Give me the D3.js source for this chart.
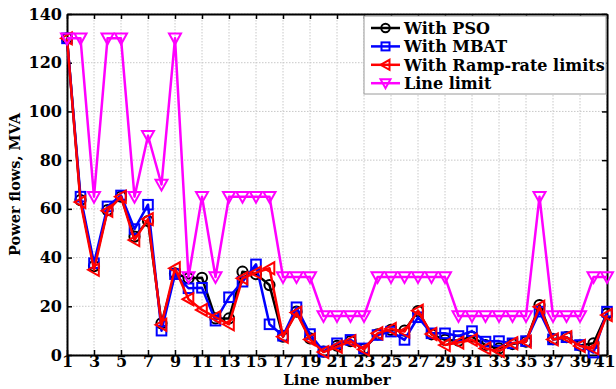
<!DOCTYPE html>
<html>
<head>
<meta charset="utf-8">
<script src="https://cdn.jsdelivr.net/npm/d3@7"></script>
<style>
  html, body { margin: 0; padding: 0; background: #fff; }
  svg { display: block; font-family: 'DejaVu Serif', serif; font-weight: bold; }
</style>
</head>
<body>
<svg id="chart" width="616" height="389"></svg>
<script>
// line numbers 1..41
const lines = d3.range(1, 42);

const withPSO = [130, 63.6, 36.5, 59.5, 65, 48.6, 55, 13, 33.5, 31.5,
  31.7, 15, 15, 34.2, 33.2, 28.7, 7.5, 17.8, 6.8, 1.4,
  3.8, 5.7, 2.5, 8.5, 10.3, 10, 18, 8.5, 6.2, 5.9,
  7.5, 4.1, 2.7, 4.5, 5.5, 20.5, 6.5, 7.3, 3.9, 4.8, 17];

const withMBAT = [130, 65, 37.7, 61, 65.5, 51.7, 61.7, 10, 33.2, 27.4,
  27.6, 14.1, 23.7, 30.1, 37.2, 12.6, 7.9, 19.6, 8.6, 1.4,
  4.8, 6.2, 2.7, 8.2, 9.6, 6.2, 15.5, 8.9, 8.9, 7.8,
  9.8, 5.5, 5.7, 4.8, 5.7, 17.8, 6.4, 7.3, 4.1, 1, 17.8];

const withRamp = [130, 62.8, 35, 59.2, 65, 47.2, 55.8, 12.4, 35.6, 22.9,
  18.5, 15.5, 12.6, 31.5, 33.8, 35.6, 7.5, 17.4, 6.4, 1.2,
  3.4, 5.7, 2.3, 8.9, 10.7, 9.6, 18.2, 8.6, 4.1, 5.1,
  6.2, 2.7, 1.6, 4.8, 5.5, 19.8, 6.4, 7.3, 3.7, 2.7, 16.4];

const lineLimit = [130, 130, 65, 130, 130, 65, 90, 70, 130, 32,
  65, 32, 65, 65, 65, 65, 32, 32, 32, 16,
  16, 16, 16, 32, 32, 32, 32, 32, 32, 16,
  16, 16, 16, 16, 16, 65, 16, 16, 16, 32, 32];

const xTicks = d3.range(1, 42, 2);
const yTicks = d3.range(0, 141, 20);

const series = [
  { name: 'With PSO', values: withPSO, color: '#000000', marker: 'circle' },
  { name: 'With MBAT', values: withMBAT, color: '#0000ff', marker: 'square' },
  { name: 'With Ramp-rate limits', values: withRamp, color: '#ff0000', marker: 'left' },
  { name: 'Line limit', values: lineLimit, color: '#ff00ff', marker: 'down' },
];

const svg = d3.select('#chart');
const pL = 67, pR = 607, pT = 14, pB = 355;

const x = d3.scaleLinear().domain([1, 41]).range([pL, pR]);
const y = d3.scaleLinear().domain([0, 140]).range([pB, pT]);

// grid
const grid = svg.append('g');
grid.selectAll('line.vx').data(xTicks).enter().append('line')
  .attr('x1', d => x(d)).attr('x2', d => x(d))
  .attr('y1', pT).attr('y2', pB)
  .attr('stroke', '#c8c8c8').attr('stroke-width', 1).attr('stroke-dasharray', '1.5,1.5');
grid.selectAll('line.hy').data(yTicks).enter().append('line')
  .attr('x1', pL).attr('x2', pR)
  .attr('y1', d => y(d)).attr('y2', d => y(d))
  .attr('stroke', '#c8c8c8').attr('stroke-width', 1).attr('stroke-dasharray', '1.5,1.5');

// axes, ticks pointing inward like matlab
const axisStyle = g => {
  g.select('.domain').attr('stroke', '#000').attr('stroke-width', 2);
  g.selectAll('.tick line').attr('stroke', '#000').attr('stroke-width', 1.5);
  g.selectAll('.tick text').attr('font-family', 'DejaVu Serif').attr('font-weight', 'bold')
    .attr('font-size', 16).attr('fill', '#000');
};

const xAxis = svg.append('g').attr('transform', `translate(0,${pB})`)
  .call(d3.axisBottom(x).tickValues(xTicks).tickSize(-5).tickPadding(1).tickSizeOuter(0))
  .call(axisStyle);
// last label sits against the page edge
xAxis.selectAll('.tick text').filter(d => d === 41).attr('dx', -3);

svg.append('g').attr('transform', `translate(0,${pT})`)
  .call(d3.axisTop(x).tickValues(xTicks).tickSize(-5).tickFormat('').tickSizeOuter(0))
  .call(axisStyle);
svg.append('g').attr('transform', `translate(${pL},0)`)
  .call(d3.axisLeft(y).tickValues(yTicks).tickSize(-5).tickPadding(5).tickSizeOuter(0))
  .call(axisStyle);
svg.append('g').attr('transform', `translate(${pR},0)`)
  .call(d3.axisRight(y).tickValues(yTicks).tickSize(-5).tickFormat('').tickSizeOuter(0))
  .call(axisStyle);

// marker drawing
function drawMarker(sel, type, color, s) {
  if (type === 'circle') {
    sel.append('circle').attr('r', s * 0.85);
  } else if (type === 'square') {
    sel.append('rect').attr('x', -s * 0.8).attr('y', -s * 0.8).attr('width', s * 1.6).attr('height', s * 1.6);
  } else if (type === 'left') {
    sel.append('path').attr('d', `M${-s},0L${s * 0.8},${-s}L${s * 0.8},${s}Z`);
  } else if (type === 'down') {
    sel.append('path').attr('d', `M${-s},${-s * 0.8}L${s},${-s * 0.8}L0,${s}Z`);
  }
  sel.selectAll('*').attr('fill', 'none').attr('stroke', color).attr('stroke-width', 2);
}

const plot = svg.append('g');
const line = d3.line().x((d, i) => x(lines[i])).y(d => y(d));

series.forEach(s => {
  const g = plot.append('g');
  g.append('path').datum(s.values)
    .attr('d', line).attr('fill', 'none')
    .attr('stroke', s.color).attr('stroke-width', 2.5).attr('stroke-linejoin', 'round');
  g.selectAll('g.m').data(s.values).enter().append('g')
    .attr('transform', (d, i) => `translate(${x(lines[i])},${y(d)})`)
    .each(function () { drawMarker(d3.select(this), s.marker, s.color, 6); });
});

// legend
const lg = svg.append('g');
lg.append('rect').attr('x', 364).attr('y', 16).attr('width', 242).attr('height', 78)
  .attr('fill', '#fff').attr('stroke', '#9a9a9a').attr('stroke-width', 1);
series.forEach((s, i) => {
  const yy = 28 + i * 18.4;
  lg.append('line').attr('x1', 371).attr('x2', 400).attr('y1', yy).attr('y2', yy)
    .attr('stroke', s.color).attr('stroke-width', 2.5);
  const m = lg.append('g').attr('transform', `translate(385.5,${yy})`);
  drawMarker(m, s.marker, s.color, 5);
  lg.append('text').attr('x', 404).attr('y', yy).attr('dy', '0.36em')
    .attr('font-size', 16).attr('fill', '#000').text(s.name);
});

// axis labels
svg.append('text').attr('x', (pL + pR) / 2).attr('y', 385)
  .attr('text-anchor', 'middle').attr('font-size', 15).text('Line number');
svg.append('text').attr('transform', `translate(20,${(pT + pB) / 2}) rotate(-90)`)
  .attr('text-anchor', 'middle').attr('font-size', 14.5).text('Power flows, MVA');
</script>
</body>
</html>
